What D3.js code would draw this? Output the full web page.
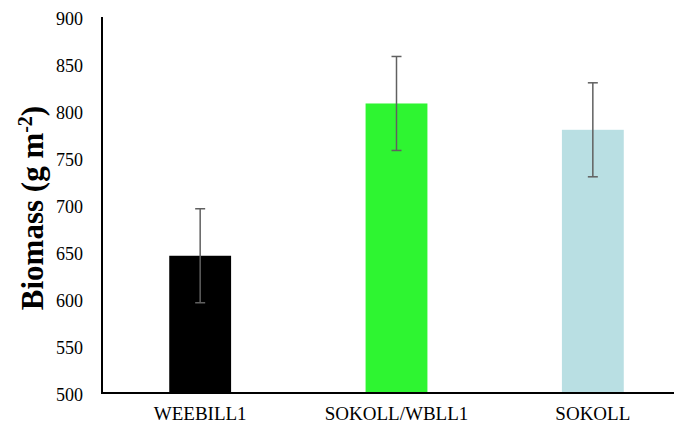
<!DOCTYPE html>
<html>
<head>
<meta charset="utf-8">
<script src="https://cdn.jsdelivr.net/npm/d3@7"></script>
<style>
  html, body { margin: 0; padding: 0; background: #fff; }
  svg { display: block; font-family: "Liberation Serif", "Times New Roman", serif; }
</style>
</head>
<body>
<svg id="chart" width="675" height="428"></svg>
<script>
// Biomass by genotype, with error of the mean
const categories = ["WEEBILL1", "SOKOLL/WBLL1", "SOKOLL"];
const biomass = [646, 808, 780];
const errors = [50, 50, 50];
const yTicks = [500, 550, 600, 650, 700, 750, 800, 850, 900];
const barColors = ["#000000", "#2ef531", "#b9dfe3"];

const serif = "Liberation Serif, Times New Roman, serif";
const svg = d3.select("#chart");
const axisLeft = 102, axisRight = 674, plotTop = 17, plotBottom = 393;

const y = d3.scaleLinear().domain([500, 900]).range([plotBottom, plotTop]);
const x = d3.scaleBand().domain(categories).range([axisLeft, axisLeft + 589]).padding(0);
const barW = x.bandwidth() * 0.315;

// bars
svg.append("g").selectAll("rect")
  .data(categories)
  .join("rect")
  .attr("x", (d) => x(d) + x.bandwidth() / 2 - barW / 2)
  .attr("y", (d, i) => y(biomass[i]))
  .attr("width", barW)
  .attr("height", (d, i) => y(500) - y(biomass[i]))
  .attr("fill", (d, i) => barColors[i]);

// error bars
const eb = svg.append("g").attr("stroke", "#606060").attr("stroke-width", 1.5);
categories.forEach((c, i) => {
  const cx = x(c) + x.bandwidth() / 2;
  const hi = y(biomass[i] + errors[i]), lo = y(biomass[i] - errors[i]);
  eb.append("line").attr("x1", cx).attr("x2", cx).attr("y1", hi).attr("y2", lo);
  eb.append("line").attr("x1", cx - 5).attr("x2", cx + 5).attr("y1", hi).attr("y2", hi);
  eb.append("line").attr("x1", cx - 5).attr("x2", cx + 5).attr("y1", lo).attr("y2", lo);
});

// y axis
const yAxis = svg.append("g")
  .attr("transform", `translate(${axisLeft},0)`)
  .call(d3.axisLeft(y).tickValues(yTicks).tickSize(0).tickPadding(19));
yAxis.select(".domain").remove();
yAxis.selectAll("text").attr("font-size", 18).attr("fill", "#000")
  .attr("font-family", serif).attr("dy", "0.4em");

// x axis labels
const xAxis = svg.append("g")
  .attr("transform", `translate(0,${plotBottom})`)
  .call(d3.axisBottom(x).tickSize(0).tickPadding(14));
xAxis.select(".domain").remove();
xAxis.selectAll("text").attr("font-size", 19).attr("fill", "#000")
  .attr("font-family", serif);

// axis lines
svg.append("line").attr("x1", axisLeft).attr("x2", axisLeft)
  .attr("y1", plotTop).attr("y2", plotBottom + 1)
  .attr("stroke", "#000").attr("stroke-width", 2);
svg.append("line").attr("x1", axisLeft - 1).attr("x2", axisRight)
  .attr("y1", plotBottom).attr("y2", plotBottom)
  .attr("stroke", "#000").attr("stroke-width", 2);

// y axis title
const title = svg.append("text")
  .attr("transform", `translate(43,208) rotate(-90)`)
  .attr("text-anchor", "middle")
  .attr("font-size", 31)
  .attr("font-weight", "bold")
  .attr("font-family", serif)
  .attr("fill", "#000");
title.append("tspan").text("Biomass (g m");
title.append("tspan").attr("baseline-shift", "super").attr("font-size", 20).text("-2");
title.append("tspan").text(")");
</script>
</body>
</html>
